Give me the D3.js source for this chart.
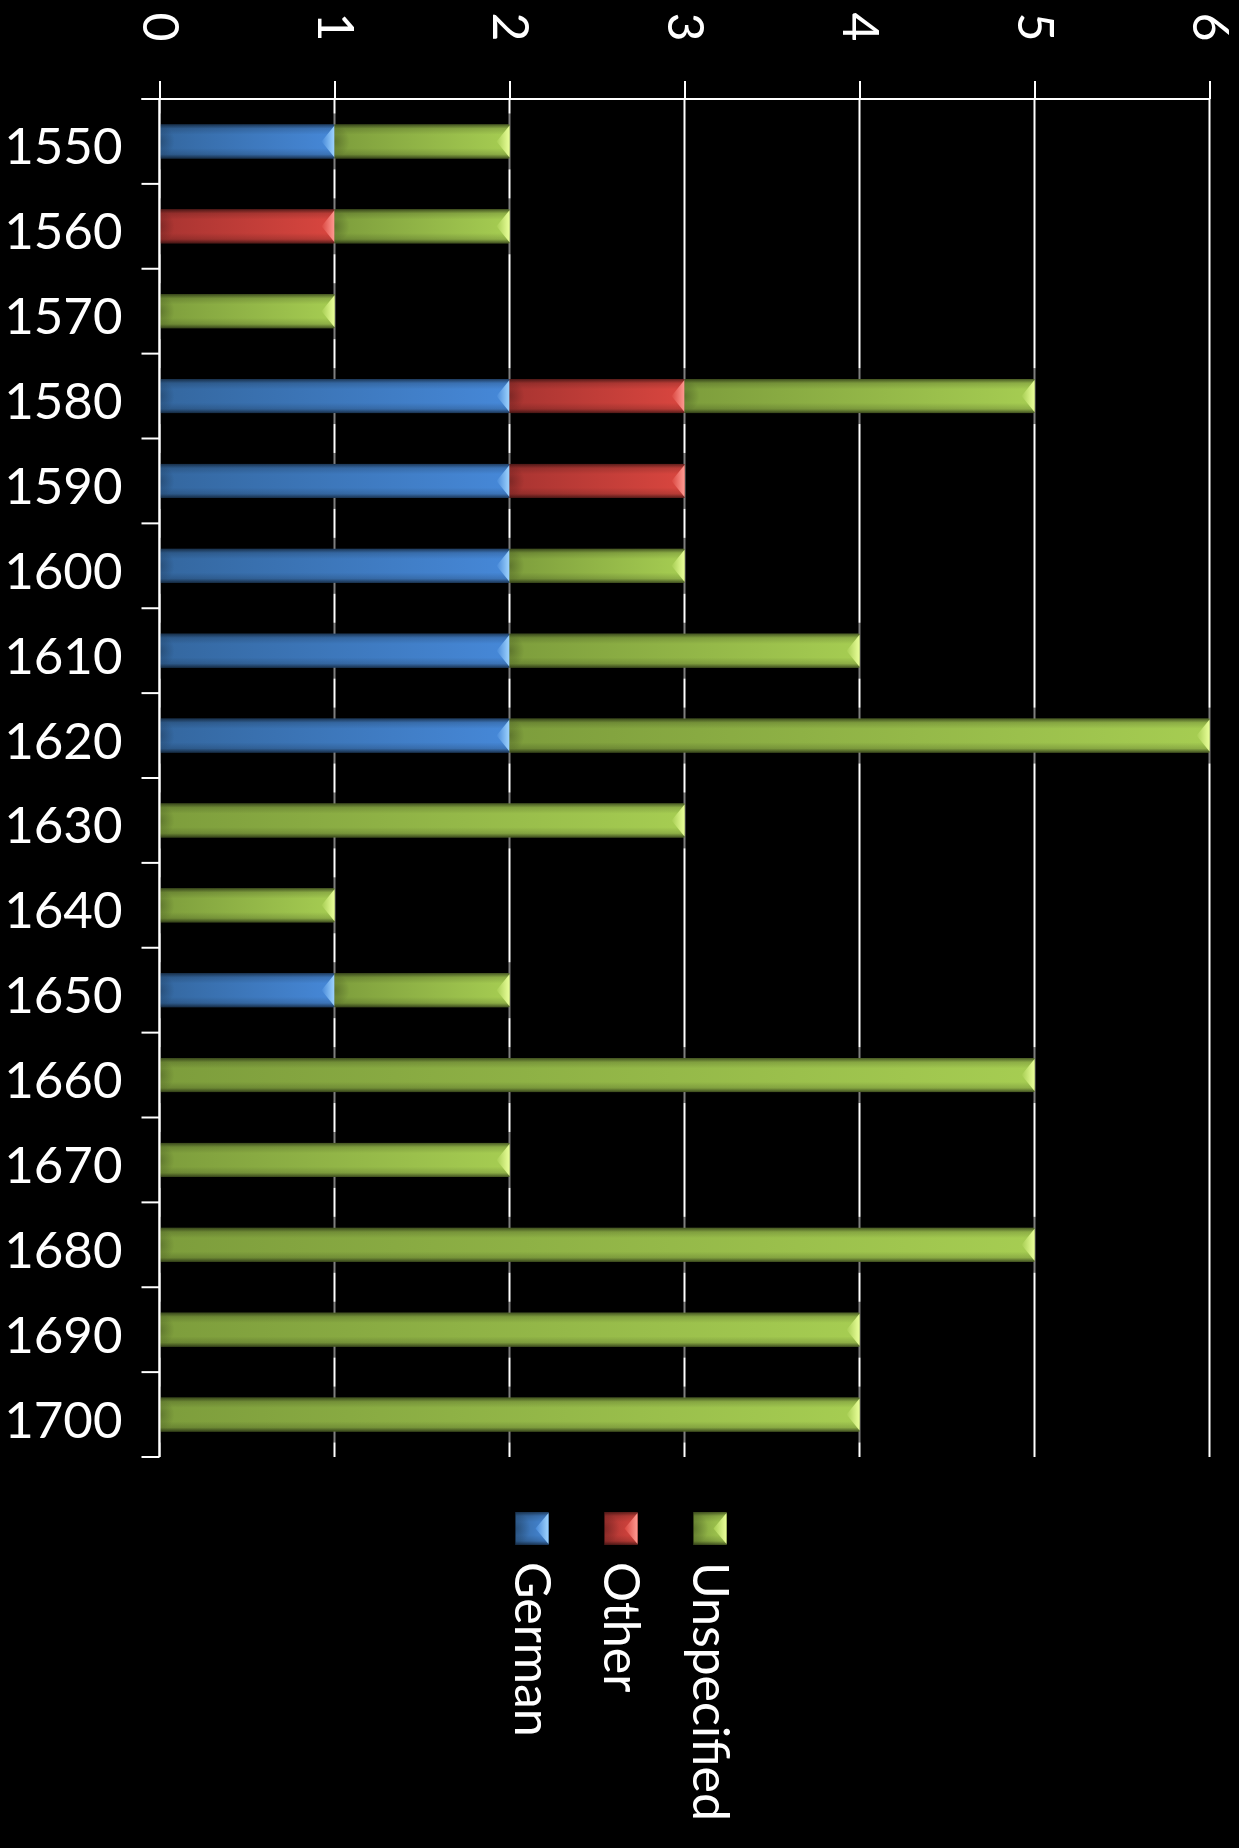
<!DOCTYPE html>
<html>
<head>
<meta charset="utf-8">
<script src="https://cdn.jsdelivr.net/npm/d3@7"></script>
<style>
  html, body { margin: 0; padding: 0; background: #000; }
  svg { display: block; }
  text { font-family: Lato, "Open Sans", "DejaVu Sans", sans-serif; fill: #fff; }
</style>
</head>
<body>
<svg id="chart" width="1239" height="1848"></svg>
<script>
// Decades (category axis)
const years = ['1550','1560','1570','1580','1590','1600','1610','1620',
               '1630','1640','1650','1660','1670','1680','1690','1700'];
// Counts per series, stacked in this order
const german      = [1,0,0,2,2,2,2,2,0,0,1,0,0,0,0,0];
const other       = [0,1,0,1,1,0,0,0,0,0,0,0,0,0,0,0];
const unspecified = [1,1,1,2,0,1,2,4,3,1,1,5,2,5,4,4];
const seriesNames = ['German','Other','Unspecified'];
const valueTicks  = [0,1,2,3,4,5,6];

// Colour ramps for the bevelled bars: [dark, light, end-cap highlight]
const palette = {
  German:      ['#34679f', '#4688d8', '#9fd4ff'],
  Other:       ['#a83431', '#d9463f', '#ff9a92'],
  Unspecified: ['#7d9d3c', '#a6cd52', '#eaff9a']
};

const svg = d3.select('#chart');
const plotTop = 99, plotBottom = 1457, plotLeft = 159.5, plotRight = 1209.5;

const x = d3.scaleLinear().domain([0, 6]).range([plotLeft, plotRight]);
const y = d3.scaleBand().domain(years).range([plotTop, plotBottom])
  .paddingInner(0.6).paddingOuter(0.3);

const rows = years.map((yr, i) => ({ year: yr, German: german[i], Other: other[i], Unspecified: unspecified[i] }));
const stacked = d3.stack().keys(seriesNames)(rows);

// Gradients
const defs = svg.append('defs');
seriesNames.forEach(name => {
  const [dark, light, cap] = palette[name];
  const g = defs.append('linearGradient').attr('id', 'body-' + name)
    .attr('x1', 0).attr('y1', 0).attr('x2', 1).attr('y2', 0);
  g.append('stop').attr('offset', 0).attr('stop-color', dark);
  g.append('stop').attr('offset', 1).attr('stop-color', light);
  const c = defs.append('linearGradient').attr('id', 'cap-' + name)
    .attr('x1', 0).attr('y1', 0).attr('x2', 1).attr('y2', 0);
  c.append('stop').attr('offset', 0).attr('stop-color', light);
  c.append('stop').attr('offset', 1).attr('stop-color', cap);
});
const edge = defs.append('linearGradient').attr('id', 'edge')
  .attr('x1', 0).attr('y1', 0).attr('x2', 0).attr('y2', 1);
[[0, 0.55], [0.12, 0.15], [0.3, 0], [0.7, 0], [0.88, 0.15], [1, 0.6]].forEach(([o, a]) =>
  edge.append('stop').attr('offset', o).attr('stop-color', '#000').attr('stop-opacity', a));
const leftShade = defs.append('radialGradient').attr('id', 'leftShade')
  .attr('cx', 0).attr('cy', 0.5).attr('r', 0.5);
leftShade.append('stop').attr('offset', 0).attr('stop-color', '#000').attr('stop-opacity', 0.25);
leftShade.append('stop').attr('offset', 1).attr('stop-color', '#000').attr('stop-opacity', 0);

// Vertical gridlines
svg.append('g').selectAll('line').data(valueTicks).join('line')
  .attr('x1', d => x(d)).attr('x2', d => x(d))
  .attr('y1', plotTop).attr('y2', plotBottom)
  .attr('stroke', '#fff').attr('stroke-width', 2);

// Soft shadow around each stacked bar (dims the gridlines next to it)
const bw = y.bandwidth();
svg.append('g').selectAll('rect').data(rows).join('rect')
  .attr('x', x(0))
  .attr('y', d => y(d.year) - 11)
  .attr('width', d => Math.max(0, x(d.German + d.Other + d.Unspecified) - x(0) + 3))
  .attr('height', bw + 22)
  .attr('fill', '#000')
  .attr('opacity', d => (d.German + d.Other + d.Unspecified) > 0 ? 0.5 : 0);

// Bevelled segment drawer
function drawSegment(g, x0, x1, y0, h, name) {
  const w = x1 - x0;
  if (w <= 0) return;
  g.append('rect').attr('x', x0).attr('y', y0).attr('width', w).attr('height', h)
    .attr('fill', `url(#body-${name})`);
  g.append('rect').attr('x', x0).attr('y', y0).attr('width', Math.min(30, w)).attr('height', h)
    .attr('fill', 'url(#leftShade)');
  g.append('rect').attr('x', x0).attr('y', y0).attr('width', w).attr('height', h)
    .attr('fill', 'url(#edge)');
  const cw = Math.min(13, w / 2);
  g.append('path')
    .attr('d', `M${x1},${y0 + 1}L${x1 - cw},${y0 + h / 2}L${x1},${y0 + h - 1}Z`)
    .attr('fill', `url(#cap-${name})`);
}

const bars = svg.append('g');
stacked.forEach(layer => {
  layer.forEach(seg => {
    drawSegment(bars, x(seg[0]), x(seg[1]), y(seg.data.year), bw, layer.key);
  });
});

// Value axis along the top, labels turned a quarter clockwise
const xAxis = svg.append('g').attr('transform', `translate(0,${plotTop})`)
  .call(d3.axisTop(x).tickValues(valueTicks).tickSize(18).tickSizeOuter(0).tickFormat(d3.format('d')));
xAxis.select('.domain').remove();
xAxis.selectAll('.tick line').attr('stroke', '#fff').attr('stroke-width', 2);
xAxis.selectAll('.tick text')
  .attr('y', null).attr('dy', '0.35em')
  .attr('transform', 'translate(0,-72) rotate(90)')
  .attr('text-anchor', 'middle')
  .style('font-size', '50px').style('fill', '#fff');
svg.append('line').attr('x1', plotLeft - 18).attr('x2', plotRight)
  .attr('y1', plotTop).attr('y2', plotTop).attr('stroke', '#fff').attr('stroke-width', 2);

// Category axis on the left, ticks on the band boundaries
const yAxis = svg.append('g').attr('transform', `translate(${plotLeft},0)`)
  .call(d3.axisLeft(y).tickSize(0).tickPadding(37));
yAxis.select('.domain').remove();
yAxis.selectAll('.tick text').attr('dy', '0.45em').style('font-size', '51px').style('fill', '#fff');
svg.append('line').attr('x1', plotLeft).attr('x2', plotLeft).attr('y1', plotTop).attr('y2', plotBottom)
  .attr('stroke', '#fff').attr('stroke-width', 2);
const bounds = d3.range(years.length + 1).map(i => plotTop + i * y.step());
svg.append('g').selectAll('line').data(bounds).join('line')
  .attr('x1', plotLeft - 18).attr('x2', plotLeft).attr('y1', d => d).attr('y2', d => d)
  .attr('stroke', '#fff').attr('stroke-width', 2);

// Legend
const legendX = d3.scalePoint().domain(seriesNames).range([532, 710]);
const legend = svg.append('g');
seriesNames.forEach(name => {
  const cx = legendX(name);
  drawSegment(legend, cx - 16.5, cx + 16.5, 1512, 33, name);
  legend.append('text')
    .attr('transform', `translate(${cx},1562) rotate(90)`)
    .attr('dy', '0.35em')
    .attr('text-anchor', 'start')
    .style('font-size', '50px')
    .text(name);
});
</script>
</body>
</html>
